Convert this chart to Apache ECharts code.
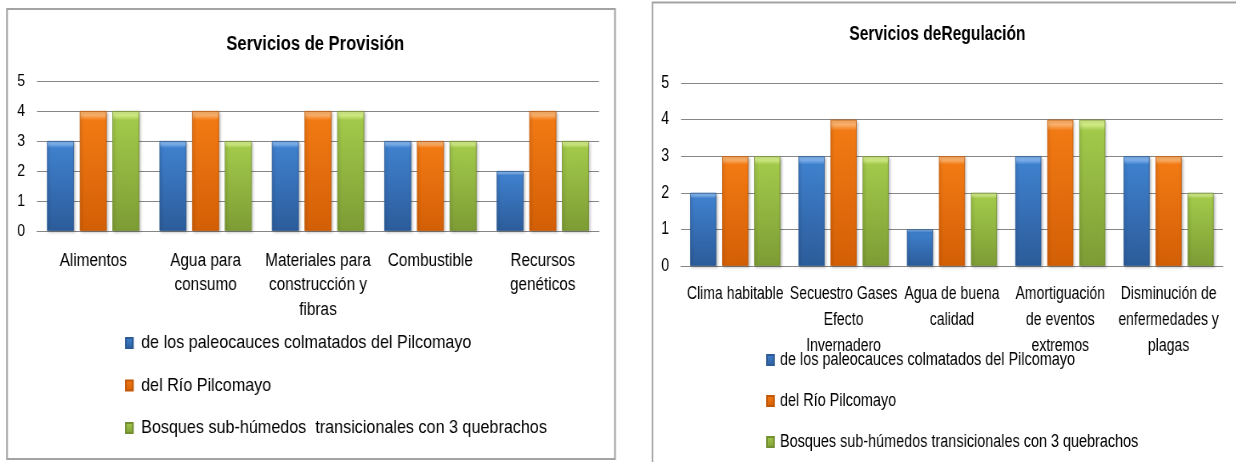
<!DOCTYPE html>
<html>
<head>
<meta charset="utf-8">
<title>Servicios ecosistémicos</title>
<script src="https://cdn.jsdelivr.net/npm/echarts@6/dist/echarts.min.js"></script>
<style>
  html, body { margin: 0; padding: 0; background: #ffffff; }
  #wrap { position: relative; width: 1236px; height: 462px; overflow: hidden; background: #ffffff; }
  .panel { position: absolute; top: 0; width: 618px; height: 462px; overflow: hidden; }
  .chart { position: absolute; left: 0; top: 0; height: 462px; transform-origin: 0 0; }
</style>
</head>
<body>
<div id="wrap">
  <div class="panel" style="left:0"><div id="provision" class="chart"></div></div>
  <div class="panel" style="left:618px"><div id="regulacion" class="chart"></div></div>
</div>
<script>
// Legend entries of each panel
const provisionSeriesNames = [
  'de los paleocauces colmatados del Pilcomayo',
  'del Río Pilcomayo',
  'Bosques sub-húmedos  transicionales con 3 quebrachos'
];
const regulacionSeriesNames = [
  'de los paleocauces colmatados del Pilcomayo',
  'del Río Pilcomayo',
  'Bosques sub-húmedos transicionales con 3 quebrachos'
];

// Servicios de Provisión
const provisionCategories = [
  'Alimentos',
  'Agua para\nconsumo',
  'Materiales para\nconstrucción y\nfibras',
  'Combustible',
  'Recursos\ngenéticos'
];
const provisionPaleocauces = [3, 3, 3, 3, 2];
const provisionRio = [4, 4, 4, 3, 4];
const provisionBosques = [4, 3, 4, 3, 3];

// Servicios de Regulación
const regulacionCategories = [
  'Clima habitable',
  'Secuestro Gases\nEfecto\nInvernadero',
  'Agua de buena\ncalidad',
  'Amortiguación\nde eventos\nextremos',
  'Disminución de\nenfermedades y\nplagas'
];
const regulacionPaleocauces = [2, 3, 1, 3, 3];
const regulacionRio = [3, 4, 3, 4, 3];
const regulacionBosques = [3, 3, 2, 4, 2];

// Value axis range
const yMin = 0;
const yMax = 5;
const yStep = 1;

const FONT = "'Liberation Sans', Arial, sans-serif";

// Bevelled bar fills: light top edge, body, darker base
function bevel(top, body, base) {
  return new echarts.graphic.LinearGradient(0, 0, 0, 1, [
    { offset: 0, color: top },
    { offset: 0.035, color: top },
    { offset: 0.075, color: body },
    { offset: 1, color: base }
  ]);
}
const palette = [
  { fill: bevel('#7fb3ee', '#3f80cd', '#2c5c9a'), border: '#2b5a94' },
  { fill: bevel('#fbb06a', '#f27a14', '#d35f06'), border: '#c25806' },
  { fill: bevel('#d2ec86', '#a2c94a', '#7d9c35'), border: '#738f32' }
];

// The text face is a condensed one: each panel is drawn wider and squeezed
// horizontally by factor k, so horizontal positions are given in panel pixels / k.
function buildOption(cfg) {
  const k = cfg.k;
  const values = [cfg.a, cfg.b, cfg.c];
  return {
    backgroundColor: '#ffffff',
    animation: false,
    title: {
      text: cfg.title,
      left: cfg.titleX / k,
      top: cfg.titleTop,
      textAlign: 'center',
      textStyle: { fontFamily: FONT, fontWeight: 'bold', fontSize: cfg.titleSize, color: '#000000' }
    },
    graphic: [{
      type: 'rect',
      silent: true,
      shape: { x: cfg.frame.x / k, y: cfg.frame.y, width: cfg.frame.width / k, height: cfg.frame.height },
      style: { fill: 'none', stroke: '#a3a3a3', lineWidth: 2 },
      z: -10
    }],
    legend: {
      orient: 'vertical',
      left: cfg.legendX / k - 5,
      top: cfg.legendTop,
      itemWidth: 7 / k,
      itemHeight: 10,
      itemGap: cfg.legendGap,
      icon: 'rect',
      selectedMode: false,
      data: cfg.names,
      textStyle: {
        fontFamily: FONT, fontSize: cfg.legendSize, color: '#000000',
        lineHeight: 20, padding: [0, 0, 0, cfg.legendPad / k]
      }
    },
    grid: {
      left: cfg.grid.left / k, top: cfg.grid.top,
      width: cfg.grid.width / k, height: cfg.grid.height
    },
    xAxis: {
      type: 'category',
      data: cfg.categories,
      axisLine: { show: true, lineStyle: { color: '#868686', width: 1 } },
      axisTick: { show: false },
      axisLabel: {
        interval: 0,
        margin: cfg.xMargin,
        fontFamily: FONT,
        fontSize: cfg.xSize,
        lineHeight: cfg.xLine,
        color: '#000000',
        align: 'center'
      }
    },
    yAxis: {
      type: 'value',
      min: yMin,
      max: yMax,
      interval: yStep,
      axisLine: { show: false },
      axisTick: { show: false },
      splitLine: { lineStyle: { color: '#868686', width: 1 } },
      axisLabel: { margin: 12 / k, fontFamily: FONT, fontSize: cfg.ySize, color: '#000000' }
    },
    series: cfg.names.map((name, i) => ({
      name: name,
      type: 'bar',
      data: values[i],
      barWidth: cfg.barWidth / k,
      barGap: cfg.barGap,
      itemStyle: {
        color: palette[i].fill,
        borderColor: palette[i].border,
        borderWidth: 0.8,
        shadowColor: 'rgba(0,0,0,0.28)',
        shadowBlur: 3,
        shadowOffsetX: 1.5,
        shadowOffsetY: 1.5
      }
    }))
  };
}

function mount(id, cfg) {
  const el = document.getElementById(id);
  el.style.width = (618 / cfg.k) + 'px';
  el.style.transform = 'scaleX(' + cfg.k + ')';
  const chart = echarts.init(el, null, { renderer: 'canvas', width: 618 / cfg.k, height: 462 });
  chart.setOption(buildOption(cfg));
  return chart;
}

mount('provision', {
  k: 0.85,
  title: 'Servicios de Provisión',
  titleX: 311, titleTop: 30, titleSize: 19.5,
  frame: { x: 7, y: 9, width: 608, height: 450 },
  grid: { left: 37, top: 81, width: 562, height: 150 },
  categories: provisionCategories,
  names: provisionSeriesNames,
  a: provisionPaleocauces, b: provisionRio, c: provisionBosques,
  barWidth: 27, barGap: '21%',
  xMargin: 17.5, xSize: 18, xLine: 24.5,
  ySize: 16.5,
  legendX: 125, legendTop: 328, legendGap: 22.5, legendSize: 19, legendPad: 4
});

mount('regulacion', {
  k: 0.8,
  title: 'Servicios deRegulación',
  titleX: 315, titleTop: 19.5, titleSize: 19.5,
  frame: { x: 34.5, y: 2.5, width: 640, height: 480 },
  grid: { left: 63, top: 83, width: 541, height: 183 },
  categories: regulacionCategories,
  names: regulacionSeriesNames,
  a: regulacionPaleocauces, b: regulacionRio, c: regulacionBosques,
  barWidth: 26, barGap: '23%',
  xMargin: 15.5, xSize: 17.5, xLine: 26,
  ySize: 17.5,
  legendX: 148, legendTop: 345, legendGap: 21, legendSize: 18, legendPad: 2
});
</script>
</body>
</html>
